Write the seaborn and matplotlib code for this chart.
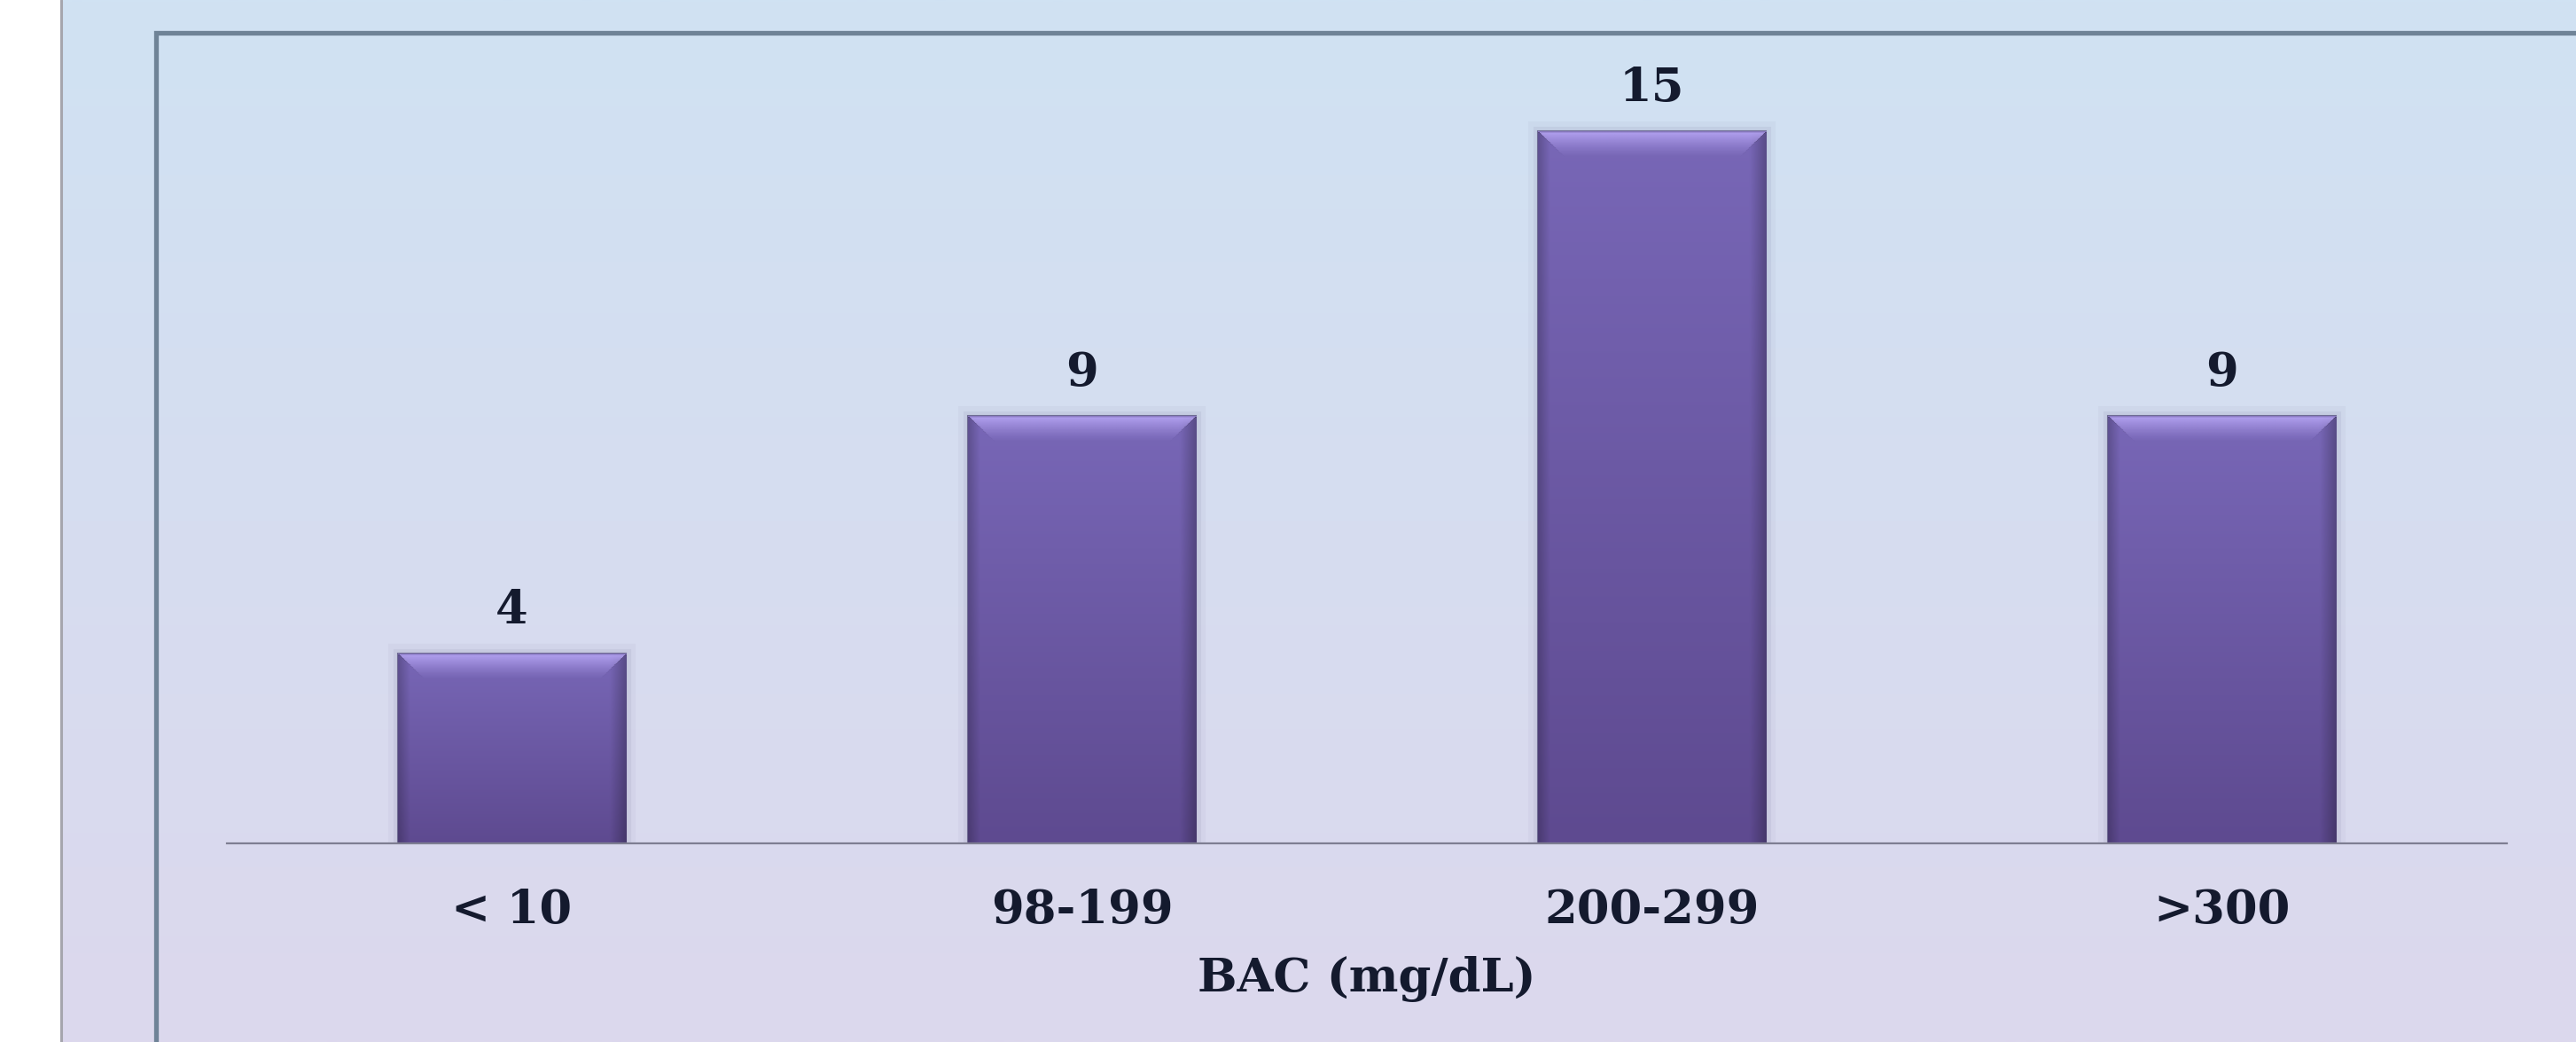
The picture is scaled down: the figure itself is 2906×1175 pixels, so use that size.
import numpy as np
import matplotlib
matplotlib.use('Agg')
import matplotlib.pyplot as plt
import seaborn as sns
from matplotlib.patches import Rectangle
from matplotlib.lines import Line2D
from matplotlib import patheffects as pe
from matplotlib.colors import to_rgb

# ---- data ----
categories = ['< 10', '98-199', '200-299', '>300']
counts = [4, 9, 15, 9]
x_label = 'BAC (mg/dL)'

# ---- style ----
sns.set_theme(style='white')
plt.rcParams['font.family'] = ['DejaVu Serif', 'DejaVu Sans']
TEXT = '#141A2E'
FS = 38

W, H = 2906, 1175
DPI = 100
fig = plt.figure(figsize=(W / DPI, H / DPI), dpi=DPI, facecolor='white')

# background gradient panel
bg = fig.add_axes([70 / W, 0, 1 - 70 / W, 1], zorder=-10)
c_top = np.array(to_rgb('#D0E2F3'))
c_bot = np.array(to_rgb('#DCD8ED'))
t = np.linspace(0, 1, 256)[:, None]
grad = (c_top * (1 - t) + c_bot * t)[:, None, :]
bg.imshow(grad, aspect='auto', extent=[0, 1, 0, 1], origin='upper', interpolation='bilinear')
bg.axis('off')
fig.add_artist(Line2D([68.5 / W] * 2, [0, 1], transform=fig.transFigure,
                      color='#A6A6AE', lw=2.2))

# plot-area frame
fig.add_artist(Rectangle((175.5 / W, -0.05), (W + 3 - 175.5) / W, (H - 36.5) / H + 0.05,
                         transform=fig.transFigure, fill=False, ec='#6F8397', lw=3.8))

# main axes
ax = fig.add_axes([256 / W, 1 - 951 / H, (2828 - 256) / W, (951 - 34) / H])
ax.patch.set_alpha(0)

sns.barplot(x=categories, y=counts, ax=ax, width=0.4, color='#6E5AAC',
            edgecolor=(0.35, 0.33, 0.5, 0.8), linewidth=1.5)

px_per_unit = 803 / 15
ymax = 917 / px_per_unit

# bar shading
body_top = np.array(to_rgb('#7867B7'))
body_bot = np.array(to_rgb('#5E4A90'))
n_r, n_c = 200, 120
tt = np.linspace(0, 1, n_r)[:, None, None]
body = body_top * (1 - tt) + body_bot * tt
body = np.repeat(body, n_c, axis=1)
u = np.linspace(0, 1, n_c)
hf = np.ones(n_c)
hf = np.where(u < 0.05, 0.80 + 0.20 * (u / 0.05), hf)
hf = np.where(u > 0.93, 1.0 - 0.25 * ((u - 0.93) / 0.07), hf)
body = np.clip(body * hf[None, :, None], 0, 1)

bev_rows, bev_cols = 40, 256
bevel = np.zeros((bev_rows, bev_cols, 4))
hi = np.array(to_rgb('#B6A5F4'))
for i in range(bev_rows):
    tr = i / (bev_rows - 1)
    inset = tr * 30 / 256
    a = 0.95 * (1 - tr) ** 1.3
    for j in range(bev_cols):
        uu = j / (bev_cols - 1)
        if inset <= uu <= 1 - inset:
            bevel[i, j, :3] = hi
            bevel[i, j, 3] = a
bevel[0:2, :, :3] = to_rgb('#8A7BC2')
bevel[0:2, :, 3] = 1.0

for p, v in zip(ax.patches, counts):
    x0, y0 = p.get_x(), p.get_y()
    w, h = p.get_width(), p.get_height()
    p.set_path_effects([pe.Stroke(linewidth=16, foreground=(0.45, 0.45, 0.6, 0.06)),
                        pe.Stroke(linewidth=8, foreground=(0.45, 0.45, 0.6, 0.10)),
                        pe.Normal()])
    im = ax.imshow(body, extent=[x0, x0 + w, y0, y0 + h], aspect='auto', origin='upper',
                   interpolation='bilinear', zorder=p.get_zorder() + 0.1)
    im.set_clip_path(p)
    bh = 30 / px_per_unit
    im2 = ax.imshow(bevel, extent=[x0, x0 + w, y0 + h - bh, y0 + h], aspect='auto',
                    origin='upper', interpolation='bilinear', zorder=p.get_zorder() + 0.2)
    im2.set_clip_path(p)
    ax.annotate(str(v), xy=(x0 + w / 2, y0 + h), xytext=(0, 24.5), textcoords='offset points',
                ha='center', va='baseline', fontsize=FS, fontweight='bold', color=TEXT)

ax.set_xlim(-0.5, len(categories) - 0.5)
ax.set_ylim(0, ymax)
ax.set_yticks([])
ax.set_ylabel('')
for s in ['left', 'top', 'right']:
    ax.spines[s].set_visible(False)
ax.spines['bottom'].set_color('#7E7E92')
ax.spines['bottom'].set_linewidth(1.6)
ax.tick_params(axis='x', length=0, pad=36, labelsize=FS, labelcolor=TEXT)
for lbl in ax.get_xticklabels():
    lbl.set_fontweight('bold')
ax.set_xlabel(x_label, fontsize=FS, fontweight='bold', color=TEXT, labelpad=19)

fig.savefig('out.png', dpi=DPI, facecolor='white')
